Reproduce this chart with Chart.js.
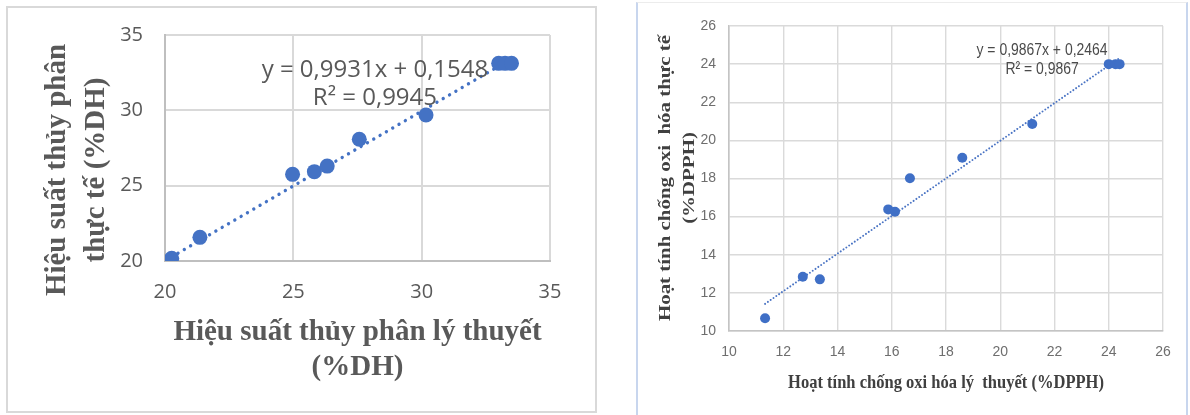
<!DOCTYPE html>
<html>
<head>
<meta charset="utf-8">
<title>Hiệu suất thủy phân / Hoạt tính chống oxi hóa</title>
<script src="https://cdn.jsdelivr.net/npm/chart.js@4.4.0/dist/chart.umd.min.js"></script>
<style>
  body { margin: 0; background: #fff; width: 1190px; height: 415px; overflow: hidden; position: relative; }
  .frame { position: absolute; box-sizing: border-box; }
  #leftFrame { left: 6px; top: 6px; width: 591px; height: 407px; border: 2px solid #d9d9d9; }
  #rightFrame { left: 636px; top: 2px; width: 552px; height: 413px; border-left: 2px solid #c8d6ee; border-right: 2px solid #c8d6ee; border-top: 1px solid #ececec; }
  canvas { position: absolute; }
</style>
</head>
<body>
<div class="frame" id="leftFrame"></div>
<div class="frame" id="rightFrame"></div>
<canvas id="leftChart" width="600" height="415" style="left:0;top:0"></canvas>
<canvas id="rightChart" width="553" height="415" style="left:637px;top:0"></canvas>
<script>
// Left chart: degree of hydrolysis (%DH), theory vs actual
const dhTheory = [20.26, 21.36, 24.97, 25.82, 26.32, 27.57, 30.17, 33.0, 33.25, 33.5];
const dhActual = [20.18, 21.57, 25.75, 25.93, 26.30, 28.08, 29.69, 33.12, 33.12, 33.12];
const dhTicks = [20, 25, 30, 35];
const dhSlope = 0.9931;
const dhIntercept = 0.1548;
const dhFitText = ["y = 0,9931x + 0,1548", "R² = 0,9945"];
const dhFitAt = [28.18, 32.67];
const dhXTitle = ["Hiệu suất thủy phân lý thuyết", "(%DH)"];
const dhYTitle = ["Hiệu suất thủy phân", "thực tế (%DH)"];

// Right chart: antioxidant activity (%DPPH), theory vs actual
const dpphTheory = [11.33, 12.72, 13.35, 15.87, 16.12, 16.67, 18.60, 21.18, 24.0, 24.25, 24.4];
const dpphActual = [10.67, 12.85, 12.71, 16.38, 16.26, 18.01, 19.09, 20.86, 24.0, 24.0, 24.0];
const dpphTicks = [10, 12, 14, 16, 18, 20, 22, 24, 26];
const dpphSlope = 0.9867;
const dpphIntercept = 0.2464;
const dpphFitText = ["y = 0,9867x + 0,2464", "R² = 0,9867"];
const dpphFitAt = [21.54, 24.74];
const dpphXTitle = ["Hoạt tính chống oxi hóa lý  thuyết (%DPPH)"];
const dpphYTitle = ["Hoạt tính chống oxi  hóa thực tế", "(%DPPH)"];

// Draw one line of text, optionally rotated and squeezed along its direction
function putText(ctx, text, x, y, rot, sx) {
  ctx.save();
  ctx.translate(x, y);
  if (rot) ctx.rotate(rot);
  ctx.scale(sx || 1, 1);
  ctx.fillText(text, 0, 0);
  ctx.restore();
}

// Axis titles and the trendline label (Excel style)
const extraText = {
  id: "extraText",
  afterDraw(chart, args, opts) {
    const ctx = chart.ctx;
    const area = chart.chartArea;
    ctx.save();
    ctx.textAlign = "center";
    ctx.textBaseline = "middle";

    const xt = opts.xTitle;
    ctx.font = xt.font;
    ctx.fillStyle = xt.color;
    const cx = (area.left + area.right) / 2;
    xt.lines.forEach(function (line, i) {
      putText(ctx, line, cx, xt.y + i * xt.lineHeight, 0, xt.squeeze);
    });

    const yt = opts.yTitle;
    ctx.font = yt.font;
    ctx.fillStyle = yt.color;
    yt.lines.forEach(function (line, i) {
      putText(ctx, line, yt.x + i * yt.lineHeight, yt.centerY, -Math.PI / 2, yt.stretch);
    });

    const fl = opts.fitLabel;
    ctx.font = fl.font;
    ctx.fillStyle = fl.color;
    const px = chart.scales.x.getPixelForValue(fl.at[0]);
    const py = chart.scales.y.getPixelForValue(fl.at[1]);
    fl.lines.forEach(function (line, i) {
      putText(ctx, line, px, py + i * fl.lineHeight, 0, fl.squeeze);
    });
    ctx.restore();
  }
};

function trendPoints(xs, slope, intercept) {
  const lo = Math.min.apply(null, xs);
  const hi = Math.max.apply(null, xs);
  return [
    { x: lo, y: slope * lo + intercept },
    { x: hi, y: slope * hi + intercept }
  ];
}

// ---------- left chart ----------
new Chart(document.getElementById("leftChart"), {
  type: "scatter",
  data: {
    datasets: [
      {
        data: dhTheory.map(function (x, i) { return { x: x, y: dhActual[i] }; }),
        backgroundColor: "#4472c4",
        borderWidth: 0,
        pointRadius: 7.5,
        order: 0
      },
      {
        data: trendPoints(dhTheory, dhSlope, dhIntercept),
        showLine: true,
        pointRadius: 0,
        borderColor: "#4472c4",
        borderWidth: 3.4,
        borderDash: [0.01, 7.3],
        borderCapStyle: "round",
        order: 1
      }
    ]
  },
  options: {
    responsive: false,
    animation: false,
    devicePixelRatio: 1,
    layout: { padding: { top: 35, right: 50, left: 0, bottom: 0 } },
    plugins: {
      legend: { display: false },
      tooltip: { enabled: false },
      extraText: {
        xTitle: { lines: dhXTitle, font: "bold 29px 'Liberation Serif'", color: "#595959", y: 333, lineHeight: 35 },
        yTitle: { lines: dhYTitle, font: "bold 29px 'Liberation Serif'", color: "#595959", x: 58, lineHeight: 39, centerY: 170 },
        fitLabel: { lines: dhFitText, font: "24px 'Open Sans'", color: "#595959", at: dhFitAt, lineHeight: 28 }
      }
    },
    scales: {
      x: {
        type: "linear",
        min: 20,
        max: 35,
        afterBuildTicks: function (axis) { axis.ticks = dhTicks.map(function (v) { return { value: v }; }); },
        afterFit: function (axis) { axis.height = 154; },
        grid: { color: "#d9d9d9", lineWidth: 2, drawTicks: false },
        border: { color: "#bfbfbf", width: 2 },
        ticks: { padding: 19, color: "#595959", autoSkip: false, maxRotation: 0, font: { family: "'Open Sans'", size: 20 } }
      },
      y: {
        type: "linear",
        min: 20,
        max: 35,
        afterBuildTicks: function (axis) { axis.ticks = dhTicks.map(function (v) { return { value: v }; }); },
        afterFit: function (axis) { axis.width = 165; },
        grid: { color: "#d9d9d9", lineWidth: 2, drawTicks: false },
        border: { color: "#bfbfbf", width: 2 },
        ticks: { padding: 22, color: "#595959", autoSkip: false, font: { family: "'Open Sans'", size: 20 } }
      }
    }
  },
  plugins: [extraText]
});

// ---------- right chart ----------
new Chart(document.getElementById("rightChart"), {
  type: "scatter",
  data: {
    datasets: [
      {
        data: dpphTheory.map(function (x, i) { return { x: x, y: dpphActual[i] }; }),
        backgroundColor: "#3f6fc6",
        borderWidth: 0,
        pointRadius: 5,
        order: 0
      },
      {
        data: trendPoints(dpphTheory, dpphSlope, dpphIntercept),
        showLine: true,
        pointRadius: 0,
        borderColor: "#4a74c4",
        borderWidth: 2,
        borderDash: [0.01, 3.4],
        borderCapStyle: "round",
        order: 1
      }
    ]
  },
  options: {
    responsive: false,
    animation: false,
    devicePixelRatio: 1,
    layout: { padding: { top: 26, right: 27, left: 0, bottom: 0 } },
    plugins: {
      legend: { display: false },
      tooltip: { enabled: false },
      extraText: {
        xTitle: { lines: dpphXTitle, font: "bold 19px 'Liberation Serif'", color: "#404040", y: 383, lineHeight: 22, squeeze: 0.87 },
        yTitle: { lines: dpphYTitle, font: "bold 17px 'Liberation Serif'", color: "#404040", x: 29, lineHeight: 24, centerY: 178, stretch: 1.23 },
        fitLabel: { lines: dpphFitText, font: "17px 'Liberation Sans'", color: "#4a4a4a", at: dpphFitAt, lineHeight: 19, squeeze: 0.82 }
      }
    },
    scales: {
      x: {
        type: "linear",
        min: 10,
        max: 26,
        afterBuildTicks: function (axis) { axis.ticks = dpphTicks.map(function (v) { return { value: v }; }); },
        afterFit: function (axis) { axis.height = 84; },
        grid: { color: "#dadada", lineWidth: 1.4, drawTicks: false },
        border: { color: "#c4c4c4", width: 1.6 },
        ticks: { padding: 13, color: "#6e6e6e", autoSkip: false, maxRotation: 0, font: { family: "'Liberation Sans Narrow', 'Liberation Sans'", size: 14 } }
      },
      y: {
        type: "linear",
        min: 10,
        max: 26,
        afterBuildTicks: function (axis) { axis.ticks = dpphTicks.map(function (v) { return { value: v }; }); },
        afterFit: function (axis) { axis.width = 92; },
        grid: { color: "#dadada", lineWidth: 1.4, drawTicks: false },
        border: { color: "#c4c4c4", width: 1.6 },
        ticks: { padding: 13, color: "#6e6e6e", autoSkip: false, font: { family: "'Liberation Sans Narrow', 'Liberation Sans'", size: 14 } }
      }
    }
  },
  plugins: [extraText]
});
</script>
</body>
</html>
